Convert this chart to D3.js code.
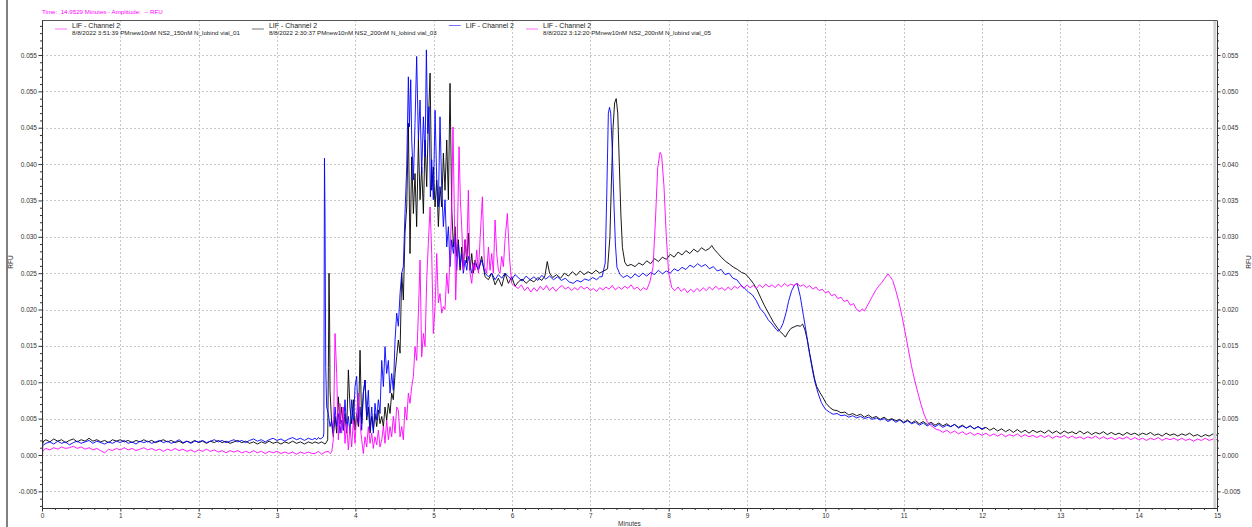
<!DOCTYPE html>
<html>
<head>
<meta charset="utf-8">
<script src="https://cdn.jsdelivr.net/npm/d3@7"></script>
<style>
  html, body { margin: 0; padding: 0; background: #fff; }
  svg { display: block; font-family: "Liberation Sans", Arial, sans-serif; }
</style>
</head>
<body>
<svg id="chart" width="1252" height="527"></svg>
<script>
// ---- axis ticks ----
const minuteTicks = [0, 1, 2, 3, 4, 5, 6, 7, 8, 9, 10, 11, 12, 13, 14, 15];
const rfuTicks = [-0.005, 0.000, 0.005, 0.010, 0.015, 0.020, 0.025, 0.030, 0.035, 0.040, 0.045, 0.050, 0.055];

// ---- cursor readout ----
const cursorTime = 14.9529;
const headerText = 'Time:  14.9529 Minutes - Amplitude:  -- RFU';

// ---- legend entries (LIF detector runs) ----
const legendTitles = ['LIF - Channel 2', 'LIF - Channel 2', 'LIF - Channel 2', 'LIF - Channel 2'];
const legendRuns = [
  '8/8/2022 3:51:39 PMnew10nM NS2_150nM N_lobind vial_01',
  '8/8/2022 2:30:37 PMnew10nM NS2_200nM N_lobind vial_03',
  '',
  '8/8/2022 3:12:20 PMnew10nM NS2_200nM N_lobind vial_05'
];
const legendColors = ['#ff00ff', '#000000', '#0000ff', '#ff00ff'];

// ---- electropherogram traces: [minutes, RFU] ----
const traceVial03 = [
[0,0.0012],[0.02,0.0019],[0.05,0.0021],[0.10,0.0018],[0.15,0.0022],[0.20,0.0019],[0.25,0.0021],[0.30,0.0017],[0.35,0.0020],[0.40,0.0022],
[0.45,0.0018],[0.50,0.0021],[0.55,0.0019],[0.60,0.0023],[0.65,0.0019],[0.70,0.0021],[0.75,0.0018],[0.80,0.0020],[0.85,0.0017],[0.90,0.0021],
[0.95,0.0019],[1.00,0.0021],[1.05,0.0018],[1.10,0.0020],[1.15,0.0017],[1.20,0.0020],[1.25,0.0018],[1.30,0.0021],[1.35,0.0018],[1.40,0.0020],
[1.45,0.0017],[1.50,0.0019],[1.55,0.0021],[1.60,0.0018],[1.65,0.0020],[1.70,0.0017],[1.75,0.0019],[1.80,0.0016],[1.85,0.0019],[1.90,0.0017],
[1.95,0.0020],[2.00,0.0017],[2.05,0.0019],[2.10,0.0016],[2.15,0.0019],[2.20,0.0017],[2.25,0.0020],[2.30,0.0017],[2.35,0.0019],[2.40,0.0016],
[2.45,0.0018],[2.50,0.0020],[2.55,0.0017],[2.60,0.0019],[2.65,0.0016],[2.70,0.0018],[2.75,0.0015],[2.80,0.0018],[2.85,0.0016],[2.90,0.0019],
[2.95,0.0016],[3.00,0.0018],[3.05,0.0015],[3.10,0.0018],[3.15,0.0016],[3.20,0.0019],[3.25,0.0016],[3.30,0.0018],[3.35,0.0015],[3.40,0.0018],
[3.45,0.0016],[3.485,0.0018],[3.528,0.0016],[3.570,0.0018],[3.613,0.0015],[3.634,0.0018],[3.647,0.0021],[3.656,0.0120],[3.664,0.0250],[3.672,0.0180],
[3.677,0.0089],[3.698,0.0043],[3.719,0.0025],[3.741,0.0053],[3.762,0.0030],[3.783,0.0080],[3.804,0.0043],[3.826,0.0066],[3.847,0.0034],[3.868,0.0057],
[3.889,0.0030],[3.911,0.0117],[3.932,0.0066],[3.953,0.0043],[3.975,0.0076],[3.996,0.0034],[4.017,0.0057],[4.039,0.0039],[4.060,0.0144],[4.081,0.0043],
[4.102,0.0085],[4.124,0.0103],[4.145,0.0048],[4.166,0.0066],[4.188,0.0030],[4.209,0.0053],[4.230,0.0034],[4.251,0.0057],[4.273,0.0039],[4.294,0.0062],
[4.315,0.0043],[4.337,0.0053],[4.358,0.0039],[4.379,0.0066],[4.400,0.0048],[4.422,0.0071],[4.443,0.0057],[4.464,0.0085],[4.485,0.0076],[4.507,0.0112],
[4.528,0.0135],[4.549,0.0158],[4.571,0.0140],[4.592,0.0250],[4.613,0.0213],[4.634,0.0305],[4.656,0.0341],[4.677,0.0456],[4.698,0.0277],[4.720,0.0410],
[4.741,0.0332],[4.762,0.0387],[4.783,0.0314],[4.805,0.0433],[4.826,0.0351],[4.847,0.0396],[4.869,0.0332],[4.890,0.0433],[4.911,0.0369],[4.932,0.0456],
[4.954,0.0525],[4.975,0.0364],[4.996,0.0396],[5.018,0.0341],[5.039,0.0378],[5.060,0.0314],[5.081,0.0369],[5.103,0.0341],[5.124,0.0415],[5.145,0.0364],
[5.167,0.0433],[5.188,0.0351],[5.209,0.0511],[5.230,0.0341],[5.252,0.0286],[5.273,0.0314],[5.294,0.0273],[5.315,0.0296],[5.337,0.0254],[5.358,0.0286],
[5.379,0.0259],[5.401,0.0296],[5.422,0.0264],[5.443,0.0305],[5.464,0.0254],[5.486,0.0277],[5.507,0.0250],[5.528,0.0268],[5.571,0.0254],[5.613,0.0273],
[5.656,0.0245],[5.699,0.0241],[5.741,0.0250],[5.784,0.0234],[5.826,0.0243],[5.869,0.0232],[5.911,0.0250],[5.954,0.0236],[5.996,0.0245],[6.039,0.0232],
[6.08,0.0238],[6.13,0.0242],[6.18,0.0236],[6.23,0.0241],[6.28,0.0238],[6.33,0.0244],[6.38,0.0240],[6.42,0.0246],[6.45,0.0266],[6.48,0.0250],
[6.52,0.0244],[6.57,0.0248],[6.62,0.0243],[6.67,0.0250],[6.72,0.0246],[6.77,0.0252],[6.82,0.0247],[6.87,0.0253],[6.92,0.0248],[6.97,0.0252],
[7.02,0.0249],[7.07,0.0254],[7.12,0.0250],[7.17,0.0253],[7.22,0.0256],[7.25,0.0300],[7.27,0.0378],[7.29,0.0450],[7.31,0.0484],[7.33,0.0490],
[7.35,0.0470],[7.37,0.0400],[7.39,0.0330],[7.41,0.0285],[7.44,0.0265],[7.47,0.0260],[7.52,0.0262],[7.57,0.0259],[7.62,0.0264],[7.67,0.0261],
[7.72,0.0267],[7.77,0.0263],[7.82,0.0270],[7.87,0.0266],[7.92,0.0272],[7.97,0.0269],[8.02,0.0276],[8.07,0.0272],[8.12,0.0279],[8.17,0.0275],
[8.22,0.0281],[8.27,0.0277],[8.32,0.0283],[8.37,0.0279],[8.42,0.0285],[8.47,0.0281],[8.52,0.0284],[8.55,0.0288],[8.58,0.0283],[8.63,0.0277],
[8.68,0.0271],[8.73,0.0266],[8.78,0.0262],[8.83,0.0258],[8.88,0.0255],[8.93,0.0251],[8.98,0.0249],[9.03,0.0243],[9.08,0.0236],[9.13,0.0227],
[9.18,0.0215],[9.22,0.0206],[9.26,0.0198],[9.30,0.0190],[9.34,0.0182],[9.38,0.0176],[9.42,0.0170],[9.46,0.0166],[9.49,0.0162],[9.52,0.0168],
[9.56,0.0174],[9.60,0.0176],[9.64,0.0178],[9.68,0.0177],[9.71,0.0180],[9.74,0.0172],[9.77,0.0158],[9.80,0.0140],[9.83,0.0123],[9.86,0.0106],
[9.89,0.0094],[9.93,0.0086],[9.97,0.0079],[10.01,0.0071],[10.05,0.0066],[10.10,0.0062],[10.15,0.0061],[10.20,0.0058],[10.25,0.0059],[10.30,0.0055],
[10.35,0.0057],[10.40,0.0054],[10.45,0.0056],[10.50,0.0052],[10.55,0.0055],[10.60,0.0051],[10.65,0.0053],[10.70,0.0049],[10.75,0.0052],[10.80,0.0048],
[10.85,0.0050],[10.90,0.0047],[10.95,0.0049],[11.00,0.0045],[11.05,0.0048],[11.10,0.0044],[11.15,0.0047],[11.20,0.0043],[11.25,0.0046],[11.30,0.0042],
[11.35,0.0045],[11.40,0.0041],[11.45,0.0044],[11.50,0.0040],[11.55,0.0043],[11.60,0.0039],[11.65,0.0042],[11.70,0.0038],[11.75,0.0041],[11.80,0.0037],
[11.85,0.0040],[11.90,0.0036],[11.95,0.0039],[12.00,0.0035],[12.05,0.0038],[12.10,0.0034],[12.15,0.0037],[12.20,0.0033],[12.25,0.0036],[12.30,0.0032],
[12.35,0.0035],[12.40,0.0031],[12.45,0.0035],[12.50,0.0031],[12.55,0.0034],[12.60,0.0030],[12.65,0.0034],[12.70,0.0031],[12.75,0.0033],[12.80,0.0030],
[12.85,0.0034],[12.90,0.0030],[12.95,0.0033],[13.00,0.0029],[13.05,0.0033],[13.10,0.0030],[13.15,0.0032],[13.20,0.0029],[13.25,0.0033],[13.30,0.0029],
[13.35,0.0032],[13.40,0.0028],[13.45,0.0031],[13.50,0.0029],[13.55,0.0032],[13.60,0.0028],[13.65,0.0031],[13.70,0.0028],[13.75,0.0030],[13.80,0.0027],
[13.85,0.0031],[13.90,0.0028],[13.95,0.0030],[14.00,0.0027],[14.05,0.0030],[14.10,0.0028],[14.15,0.0031],[14.20,0.0027],[14.25,0.0029],[14.30,0.0026],
[14.35,0.0030],[14.40,0.0027],[14.45,0.0029],[14.50,0.0026],[14.55,0.0029],[14.60,0.0027],[14.65,0.0030],[14.70,0.0026],[14.75,0.0028],[14.80,0.0025],
[14.85,0.0028],[14.90,0.0026],[14.95,0.0029],[15.00,0.0027]
];

const traceBlue = [
[0,-0.0030],[0.01,0.0013],[0.05,0.0016],[0.10,0.0018],[0.15,0.0015],[0.20,0.0019],[0.25,0.0016],[0.30,0.0018],[0.35,0.0014],[0.40,0.0017],
[0.45,0.0019],[0.50,0.0016],[0.55,0.0018],[0.60,0.0020],[0.65,0.0016],[0.70,0.0019],[0.75,0.0017],[0.80,0.0015],[0.85,0.0018],[0.90,0.0016],
[0.95,0.0019],[1.00,0.0017],[1.05,0.0020],[1.10,0.0016],[1.15,0.0018],[1.20,0.0015],[1.25,0.0019],[1.30,0.0017],[1.35,0.0019],[1.40,0.0016],
[1.45,0.0018],[1.50,0.0020],[1.55,0.0017],[1.60,0.0019],[1.65,0.0016],[1.70,0.0018],[1.75,0.0021],[1.80,0.0017],[1.85,0.0019],[1.90,0.0016],
[1.95,0.0019],[2.00,0.0018],[2.05,0.0020],[2.10,0.0017],[2.15,0.0019],[2.20,0.0021],[2.25,0.0018],[2.30,0.0020],[2.35,0.0017],[2.40,0.0019],
[2.45,0.0021],[2.50,0.0018],[2.55,0.0020],[2.60,0.0017],[2.65,0.0020],[2.70,0.0022],[2.75,0.0019],[2.80,0.0021],[2.85,0.0018],[2.90,0.0021],
[2.95,0.0023],[3.00,0.0020],[3.05,0.0022],[3.10,0.0019],[3.15,0.0022],[3.20,0.0024],[3.25,0.0021],[3.30,0.0023],[3.35,0.0020],[3.40,0.0023],
[3.45,0.0021],[3.485,0.0023],[3.507,0.0021],[3.528,0.0024],[3.549,0.0022],[3.570,0.0023],[3.592,0.0025],[3.598,0.0030],[3.606,0.0408],[3.613,0.0330],
[3.622,0.0120],[3.634,0.0066],[3.655,0.0057],[3.677,0.0039],[3.698,0.0048],[3.719,0.0030],[3.741,0.0066],[3.762,0.0039],[3.783,0.0057],[3.804,0.0030],
[3.826,0.0048],[3.847,0.0034],[3.868,0.0076],[3.889,0.0034],[3.911,0.0053],[3.932,0.0030],[3.953,0.0076],[3.975,0.0043],[3.996,0.0094],[4.017,0.0108],
[4.039,0.0043],[4.060,0.0066],[4.081,0.0034],[4.102,0.0085],[4.124,0.0103],[4.145,0.0053],[4.166,0.0089],[4.188,0.0034],[4.209,0.0066],[4.230,0.0030],
[4.251,0.0071],[4.273,0.0048],[4.294,0.0076],[4.315,0.0057],[4.337,0.0130],[4.358,0.0094],[4.379,0.0149],[4.400,0.0112],[4.422,0.0130],[4.443,0.0085],
[4.464,0.0112],[4.485,0.0089],[4.507,0.0158],[4.528,0.0195],[4.549,0.0177],[4.571,0.0222],[4.592,0.0250],[4.613,0.0259],[4.634,0.0332],[4.656,0.0396],
[4.677,0.0520],[4.690,0.0451],[4.707,0.0516],[4.720,0.0433],[4.741,0.0378],[4.762,0.0456],[4.783,0.0548],[4.805,0.0433],[4.826,0.0488],[4.847,0.0387],
[4.869,0.0465],[4.890,0.0410],[4.907,0.0557],[4.924,0.0442],[4.941,0.0479],[4.958,0.0355],[4.975,0.0406],[4.996,0.0351],[5.018,0.0474],[5.039,0.0378],
[5.060,0.0341],[5.081,0.0465],[5.103,0.0364],[5.124,0.0314],[5.145,0.0351],[5.167,0.0286],[5.188,0.0314],[5.209,0.0259],[5.230,0.0296],[5.252,0.0277],
[5.273,0.0300],[5.294,0.0254],[5.315,0.0291],[5.337,0.0259],[5.358,0.0277],[5.379,0.0250],[5.401,0.0268],[5.422,0.0254],[5.443,0.0273],[5.486,0.0250],
[5.528,0.0264],[5.571,0.0254],[5.613,0.0268],[5.656,0.0250],[5.699,0.0245],[5.741,0.0250],[5.784,0.0241],[5.826,0.0248],[5.869,0.0243],[5.911,0.0250],
[5.954,0.0245],[5.996,0.0241],[6.039,0.0248],[6.08,0.0244],[6.13,0.0239],[6.18,0.0246],[6.23,0.0241],[6.28,0.0245],[6.33,0.0240],[6.38,0.0247],
[6.43,0.0242],[6.48,0.0246],[6.53,0.0241],[6.58,0.0245],[6.63,0.0240],[6.68,0.0243],[6.73,0.0238],[6.78,0.0236],[6.83,0.0240],[6.88,0.0238],
[6.93,0.0242],[6.98,0.0240],[7.03,0.0244],[7.08,0.0241],[7.12,0.0245],[7.15,0.0245],[7.19,0.0264],[7.21,0.0360],[7.23,0.0470],[7.245,0.0478],
[7.26,0.0470],[7.28,0.0420],[7.30,0.0350],[7.32,0.0290],[7.34,0.0258],[7.38,0.0248],[7.42,0.0244],[7.47,0.0247],[7.52,0.0243],[7.57,0.0249],
[7.62,0.0245],[7.67,0.0250],[7.72,0.0246],[7.77,0.0251],[7.82,0.0248],[7.87,0.0254],[7.92,0.0249],[7.97,0.0253],[8.02,0.0250],[8.07,0.0256],
[8.12,0.0253],[8.17,0.0258],[8.22,0.0255],[8.27,0.0261],[8.32,0.0258],[8.37,0.0263],[8.42,0.0259],[8.47,0.0262],[8.52,0.0256],[8.57,0.0259],
[8.62,0.0253],[8.67,0.0255],[8.72,0.0248],[8.77,0.0250],[8.82,0.0243],[8.87,0.0241],[8.92,0.0234],[8.97,0.0229],[9.02,0.0224],[9.07,0.0220],
[9.12,0.0212],[9.17,0.0201],[9.22,0.0195],[9.27,0.0186],[9.32,0.0180],[9.37,0.0173],[9.40,0.0170],[9.43,0.0174],[9.46,0.0181],[9.50,0.0196],
[9.53,0.0211],[9.57,0.0226],[9.61,0.0234],[9.64,0.0236],[9.68,0.0218],[9.72,0.0192],[9.76,0.0166],[9.80,0.0138],[9.84,0.0114],[9.87,0.0099],
[9.91,0.0084],[9.95,0.0072],[10.00,0.0063],[10.05,0.0059],[10.10,0.0056],[10.15,0.0057],[10.20,0.0054],[10.25,0.0055],[10.30,0.0052],[10.35,0.0054],
[10.40,0.0051],[10.45,0.0053],[10.50,0.0050],[10.55,0.0052],[10.60,0.0049],[10.65,0.0051],[10.70,0.0048],[10.75,0.0050],[10.80,0.0046],[10.85,0.0049],
[10.90,0.0045],[10.95,0.0048],[11.00,0.0044],[11.05,0.0047],[11.10,0.0043],[11.15,0.0045],[11.20,0.0041],[11.25,0.0044],[11.30,0.0040],[11.35,0.0043],
[11.40,0.0039],[11.45,0.0042],[11.50,0.0038],[11.55,0.0041],[11.60,0.0039],[11.65,0.0042],[11.70,0.0037],[11.75,0.0040],[11.80,0.0037],[11.85,0.0040],
[11.90,0.0036],[11.95,0.0039],[12.00,0.0036],[12.04,0.0038]
];

const traceVial05 = [
[0,0.0003],[0.02,0.0007],[0.05,0.0009],[0.10,0.0007],[0.15,0.0010],[0.20,0.0008],[0.25,0.0011],[0.30,0.0009],[0.35,0.0010],[0.40,0.0012],
[0.45,0.0009],[0.50,0.0011],[0.55,0.0008],[0.60,0.0010],[0.65,0.0007],[0.70,0.0009],[0.75,0.0006],[0.80,0.0003],[0.85,0.0008],[0.90,0.0006],
[0.95,0.0009],[1.00,0.0007],[1.05,0.0010],[1.10,0.0007],[1.15,0.0009],[1.20,0.0006],[1.25,0.0008],[1.30,0.0010],[1.35,0.0007],[1.40,0.0009],
[1.45,0.0006],[1.50,0.0008],[1.55,0.0005],[1.60,0.0008],[1.65,0.0006],[1.70,0.0009],[1.75,0.0006],[1.80,0.0008],[1.85,0.0005],[1.90,0.0007],
[1.95,0.0004],[2.00,0.0007],[2.05,0.0005],[2.10,0.0008],[2.15,0.0005],[2.20,0.0007],[2.25,0.0004],[2.30,0.0006],[2.35,0.0003],[2.40,0.0006],
[2.45,0.0004],[2.50,0.0006],[2.55,0.0003],[2.60,0.0005],[2.65,0.0003],[2.70,0.0006],[2.75,0.0003],[2.80,0.0005],[2.85,0.0002],[2.90,0.0005],
[2.95,0.0003],[3.00,0.0005],[3.05,0.0002],[3.10,0.0004],[3.15,0.0002],[3.20,0.0004],[3.25,0.0001],[3.30,0.0004],[3.35,0.0002],[3.40,0.0004],
[3.45,0.0002],[3.485,0.0002],[3.528,0.0005],[3.570,0.0001],[3.613,0.0004],[3.655,0.0005],[3.677,0.0002],[3.698,0.0004],[3.719,0.0021],[3.741,0.0167],
[3.762,0.0112],[3.783,0.0021],[3.804,0.0071],[3.826,0.0030],[3.847,0.0066],[3.868,0.0016],[3.889,0.0043],[3.911,0.0007],[3.932,0.0039],[3.953,0.0011],
[3.975,0.0048],[3.996,0.0016],[4.017,0.0057],[4.039,0.0085],[4.060,0.0043],[4.081,0.0021],[4.102,0.0002],[4.124,0.0025],[4.145,0.0011],[4.166,0.0039],
[4.188,0.0016],[4.209,0.0030],[4.230,0.0009],[4.251,0.0025],[4.273,0.0014],[4.294,0.0034],[4.315,0.0011],[4.337,0.0021],[4.358,0.0039],[4.379,0.0016],
[4.400,0.0048],[4.422,0.0021],[4.443,0.0039],[4.464,0.0025],[4.485,0.0053],[4.507,0.0030],[4.528,0.0066],[4.549,0.0062],[4.571,0.0025],[4.592,0.0039],
[4.613,0.0021],[4.634,0.0066],[4.656,0.0048],[4.677,0.0085],[4.698,0.0071],[4.720,0.0094],[4.741,0.0108],[4.762,0.0149],[4.783,0.0130],[4.805,0.0195],
[4.826,0.0268],[4.847,0.0135],[4.869,0.0167],[4.890,0.0149],[4.911,0.0241],[4.932,0.0291],[4.954,0.0341],[4.975,0.0277],[4.996,0.0167],[5.018,0.0204],
[5.039,0.0277],[5.060,0.0209],[5.081,0.0222],[5.103,0.0195],[5.124,0.0204],[5.145,0.0200],[5.167,0.0250],[5.188,0.0222],[5.209,0.0273],[5.230,0.0341],
[5.247,0.0451],[5.264,0.0332],[5.281,0.0213],[5.298,0.0273],[5.324,0.0424],[5.341,0.0351],[5.358,0.0314],[5.379,0.0254],[5.401,0.0296],[5.422,0.0273],
[5.443,0.0364],[5.464,0.0250],[5.486,0.0236],[5.507,0.0264],[5.528,0.0254],[5.550,0.0282],[5.571,0.0250],[5.592,0.0296],[5.622,0.0355],[5.648,0.0259],
[5.677,0.0250],[5.699,0.0286],[5.720,0.0254],[5.741,0.0277],[5.762,0.0250],[5.784,0.0323],[5.805,0.0277],[5.826,0.0254],[5.847,0.0250],[5.869,0.0273],
[5.890,0.0259],[5.911,0.0296],[5.941,0.0332],[5.967,0.0273],[5.996,0.0236],[6.018,0.0234],[6.039,0.0232],[6.08,0.0229],[6.12,0.0234],[6.16,0.0226],
[6.20,0.0231],[6.24,0.0224],[6.28,0.0230],[6.32,0.0225],[6.36,0.0232],[6.40,0.0227],[6.44,0.0233],[6.48,0.0226],[6.52,0.0231],[6.56,0.0225],
[6.60,0.0230],[6.64,0.0233],[6.68,0.0228],[6.72,0.0231],[6.76,0.0226],[6.80,0.0230],[6.84,0.0227],[6.88,0.0232],[6.92,0.0228],[6.96,0.0231],
[7.00,0.0226],[7.04,0.0229],[7.08,0.0225],[7.12,0.0230],[7.16,0.0227],[7.20,0.0231],[7.24,0.0228],[7.28,0.0233],[7.32,0.0227],[7.36,0.0231],
[7.40,0.0228],[7.44,0.0232],[7.48,0.0229],[7.52,0.0234],[7.56,0.0228],[7.60,0.0231],[7.64,0.0226],[7.68,0.0230],[7.72,0.0227],[7.76,0.0238],
[7.80,0.0258],[7.83,0.0320],[7.86,0.0395],[7.89,0.0416],[7.91,0.0412],[7.94,0.0370],[7.97,0.0300],[8.00,0.0250],[8.04,0.0230],[8.08,0.0226],
[8.12,0.0231],[8.16,0.0225],[8.20,0.0229],[8.24,0.0223],[8.28,0.0228],[8.32,0.0224],[8.36,0.0229],[8.40,0.0225],[8.44,0.0230],[8.48,0.0226],
[8.52,0.0231],[8.56,0.0227],[8.60,0.0232],[8.64,0.0228],[8.68,0.0230],[8.72,0.0226],[8.76,0.0231],[8.80,0.0227],[8.84,0.0232],[8.88,0.0229],
[8.92,0.0233],[8.96,0.0229],[9.00,0.0234],[9.04,0.0230],[9.08,0.0233],[9.12,0.0229],[9.16,0.0234],[9.20,0.0230],[9.24,0.0235],[9.28,0.0231],
[9.32,0.0234],[9.36,0.0230],[9.40,0.0235],[9.44,0.0231],[9.48,0.0236],[9.52,0.0232],[9.56,0.0235],[9.60,0.0233],[9.64,0.0236],[9.68,0.0232],
[9.72,0.0234],[9.76,0.0230],[9.80,0.0233],[9.84,0.0228],[9.88,0.0231],[9.92,0.0226],[9.96,0.0228],[10.00,0.0223],[10.04,0.0225],[10.08,0.0219],
[10.12,0.0221],[10.16,0.0215],[10.20,0.0217],[10.24,0.0211],[10.28,0.0213],[10.32,0.0206],[10.36,0.0208],[10.40,0.0200],[10.44,0.0197],[10.47,0.0201],
[10.50,0.0198],[10.53,0.0204],[10.56,0.0210],[10.60,0.0218],[10.64,0.0226],[10.68,0.0232],[10.72,0.0237],[10.76,0.0243],[10.80,0.0249],[10.83,0.0245],
[10.86,0.0240],[10.90,0.0226],[10.94,0.0210],[10.98,0.0190],[11.02,0.0168],[11.06,0.0145],[11.10,0.0122],[11.14,0.0103],[11.18,0.0086],[11.22,0.0070],
[11.26,0.0056],[11.30,0.0046],[11.34,0.0041],[11.38,0.0038],[11.42,0.0035],[11.46,0.0034],[11.50,0.0031],[11.55,0.0034],[11.60,0.0030],[11.65,0.0033],
[11.70,0.0029],[11.75,0.0032],[11.80,0.0028],[11.85,0.0031],[11.90,0.0027],[11.95,0.0030],[12.00,0.0027],[12.05,0.0030],[12.10,0.0026],[12.15,0.0029],
[12.20,0.0026],[12.25,0.0029],[12.30,0.0025],[12.35,0.0028],[12.40,0.0026],[12.45,0.0029],[12.50,0.0025],[12.55,0.0028],[12.60,0.0025],[12.65,0.0027],
[12.70,0.0024],[12.75,0.0027],[12.80,0.0024],[12.85,0.0027],[12.90,0.0023],[12.95,0.0026],[13.00,0.0024],[13.05,0.0027],[13.10,0.0023],[13.15,0.0026],
[13.20,0.0023],[13.25,0.0025],[13.30,0.0022],[13.35,0.0025],[13.40,0.0023],[13.45,0.0026],[13.50,0.0022],[13.55,0.0025],[13.60,0.0022],[13.65,0.0024],
[13.70,0.0021],[13.75,0.0024],[13.80,0.0022],[13.85,0.0025],[13.90,0.0021],[13.95,0.0024],[14.00,0.0021],[14.05,0.0023],[14.10,0.0020],[14.15,0.0023],
[14.20,0.0021],[14.25,0.0024],[14.30,0.0020],[14.35,0.0023],[14.40,0.0021],[14.45,0.0023],[14.50,0.0020],[14.55,0.0023],[14.60,0.0020],[14.65,0.0022],
[14.70,0.0019],[14.75,0.0022],[14.80,0.0020],[14.85,0.0023],[14.90,0.0020],[14.95,0.0022],[15.00,0.0021]
];

// drawing order: later traces sit on top
const traces = [
  { data: traceVial03, color: '#000000' },
  { data: traceBlue, color: '#0000ff' },
  { data: traceVial05, color: '#ff00ff' }
];

// ---- layout ----
const plotL = 42, plotR = 1217, plotT = 20, plotB = 508;
const svg = d3.select('#chart');
const x = d3.scaleLinear().domain([0, 15]).range([plotL, plotR]);
const y = d3.scaleLinear().domain([-0.00729, 0.05981]).range([plotB, plotT]);
const crisp = v => Math.round(v) + 0.5;
const fontFamily = '"Liberation Sans", Arial, sans-serif';

// window frame edge on the left
svg.append('line')
  .attr('x1', 7).attr('x2', 7).attr('y1', 0).attr('y2', 527)
  .attr('stroke', '#808080').attr('stroke-width', 2);

// cursor readout above the plot
svg.append('text')
  .attr('x', 42).attr('y', 14)
  .attr('fill', '#ff00ff')
  .attr('font-size', 6.2)
  .style('white-space', 'pre')
  .text(headerText);

// dashed grid
const grid = svg.append('g')
  .attr('stroke', '#c8c8c8')
  .attr('stroke-width', 1)
  .attr('stroke-dasharray', '2,2');
grid.selectAll('line.gx')
  .data(minuteTicks.filter(t => t > 0 && t < 15))
  .join('line').attr('class', 'gx')
  .attr('x1', d => crisp(x(d))).attr('x2', d => crisp(x(d)))
  .attr('y1', plotT).attr('y2', plotB);
grid.selectAll('line.gy')
  .data(rfuTicks)
  .join('line').attr('class', 'gy')
  .attr('x1', plotL).attr('x2', plotR)
  .attr('y1', d => crisp(y(d))).attr('y2', d => crisp(y(d)));

// traces
svg.append('clipPath').attr('id', 'plotClip')
  .append('rect')
  .attr('x', plotL).attr('y', plotT)
  .attr('width', plotR - plotL).attr('height', plotB - plotT);

const line = d3.line().x(d => x(d[0])).y(d => y(d[1]));
svg.append('g').attr('clip-path', 'url(#plotClip)')
  .selectAll('path')
  .data(traces)
  .join('path')
  .attr('d', d => line(d.data))
  .attr('fill', 'none')
  .attr('stroke', d => d.color)
  .attr('stroke-width', 0.9)
  .attr('stroke-linejoin', 'round');

// cursor bar at the readout time
svg.append('rect')
  .attr('x', x(cursorTime)).attr('y', plotT)
  .attr('width', 3).attr('height', plotB - plotT)
  .attr('fill', '#d2d2d2');

// top border of the plot
svg.append('line')
  .attr('x1', plotL).attr('x2', plotR)
  .attr('y1', plotT + 0.5).attr('y2', plotT + 0.5)
  .attr('stroke', '#555');

// ---- axes ----
const fmtRfu = d => d.toFixed(3);
const minorRfu = d3.range(-7, 60).filter(i => i % 5 !== 0).map(i => i / 1000);
const minorMin = d3.range(0, 15 * 6 + 1).filter(i => i % 6 !== 0).map(i => i / 6);

function styleAxis(g) {
  g.attr('font-size', 6.5).attr('font-family', fontFamily).attr('color', '#333');
}

svg.append('g').attr('transform', `translate(${plotL},0)`)
  .call(d3.axisLeft(y).tickValues(rfuTicks).tickFormat(fmtRfu).tickSize(3.5).tickSizeOuter(0).tickPadding(1.5))
  .call(styleAxis);
svg.append('g').attr('transform', `translate(${plotL},0)`)
  .call(d3.axisLeft(y).tickValues(minorRfu).tickFormat(() => '').tickSize(2).tickSizeOuter(0))
  .call(styleAxis)
  .call(g => g.select('.domain').remove());

svg.append('g').attr('transform', `translate(${plotR},0)`)
  .call(d3.axisRight(y).tickValues(rfuTicks).tickFormat(fmtRfu).tickSize(3.5).tickSizeOuter(0).tickPadding(1.5))
  .call(styleAxis);
svg.append('g').attr('transform', `translate(${plotR},0)`)
  .call(d3.axisRight(y).tickValues(minorRfu).tickFormat(() => '').tickSize(2).tickSizeOuter(0))
  .call(styleAxis)
  .call(g => g.select('.domain').remove());

svg.append('g').attr('transform', `translate(0,${plotB})`)
  .call(d3.axisBottom(x).tickValues(minuteTicks).tickFormat(d3.format('d')).tickSize(3.5).tickSizeOuter(0).tickPadding(2))
  .call(styleAxis);
svg.append('g').attr('transform', `translate(0,${plotB})`)
  .call(d3.axisBottom(x).tickValues(minorMin).tickFormat(() => '').tickSize(2).tickSizeOuter(0))
  .call(styleAxis)
  .call(g => g.select('.domain').remove());

// axis titles
svg.append('text')
  .attr('transform', `translate(12.5,262) rotate(-90)`)
  .attr('text-anchor', 'middle').attr('font-size', 6.5).attr('fill', '#333')
  .text('RFU');
svg.append('text')
  .attr('transform', `translate(1250.5,262) rotate(-90)`)
  .attr('text-anchor', 'middle').attr('font-size', 6.5).attr('fill', '#333')
  .text('RFU');
svg.append('text')
  .attr('x', (plotL + plotR) / 2).attr('y', 526)
  .attr('text-anchor', 'middle').attr('font-size', 6.5).attr('fill', '#333')
  .text('Minutes');

// ---- legend (flows left to right inside the header band) ----
const legend = svg.append('g').attr('fill', '#222');
let cursorX = 55;
legendTitles.forEach((title, i) => {
  const twoLines = legendRuns[i] !== '';
  const item = legend.append('g');
  item.append('line')
    .attr('x1', cursorX).attr('x2', cursorX + 12)
    .attr('y1', twoLines ? 29 : 25.5).attr('y2', twoLines ? 29 : 25.5)
    .attr('stroke', legendColors[i]).attr('stroke-width', 1).attr('stroke-opacity', 0.55);
  const t1 = item.append('text').attr('x', cursorX + 17).attr('y', 27.5)
    .attr('font-size', 7).text(title);
  let w = t1.node().getComputedTextLength();
  if (twoLines) {
    const t2 = item.append('text').attr('x', cursorX + 17).attr('y', 35)
      .attr('font-size', 6.2).text(legendRuns[i]);
    w = Math.max(w, t2.node().getComputedTextLength());
  }
  cursorX = cursorX + 17 + w + 12;
});
</script>
</body>
</html>
